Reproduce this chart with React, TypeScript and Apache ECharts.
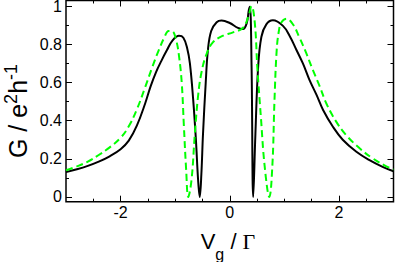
import React, { useEffect, useRef } from "react";
import * as echarts from "echarts";

// Gate voltage (Vg / Gamma) and conductance readings
const blackV = [-3.0, -2.8, -2.6, -2.4, -2.2, -2.0, -1.85, -1.7, -1.55, -1.45, -1.35, -1.25, -1.15, -1.05, -0.93, -0.85, -0.78, -0.73, -0.67, -0.62, -0.58, -0.55, -0.52, -0.49, -0.44, -0.40, -0.34, -0.24, -0.15, 0.0, 0.15, 0.24, 0.31, 0.35, 0.37, 0.40, 0.43, 0.47, 0.52, 0.58, 0.67, 0.79, 0.975, 1.1, 1.22, 1.34, 1.46, 1.59, 1.71, 1.89, 2.07, 2.32, 2.56, 2.8, 3.0];
const blackG = [0.13, 0.145, 0.163, 0.185, 0.213, 0.25, 0.295, 0.375, 0.49, 0.58, 0.655, 0.715, 0.77, 0.82, 0.845, 0.835, 0.78, 0.70, 0.51, 0.30, 0.09, 0.0, 0.12, 0.33, 0.60, 0.77, 0.87, 0.916, 0.925, 0.912, 0.886, 0.88, 0.91, 0.98, 0.997, 0.68, 0.0, 0.33, 0.68, 0.84, 0.905, 0.926, 0.897, 0.843, 0.772, 0.70, 0.614, 0.535, 0.456, 0.368, 0.30, 0.237, 0.193, 0.158, 0.135];

const greenV = [-3.0, -2.8, -2.6, -2.4, -2.2, -2.0, -1.85, -1.7, -1.55, -1.42, -1.3, -1.2, -1.12, -1.05, -0.98, -0.93, -0.88, -0.84, -0.8, -0.76, -0.70, -0.64, -0.58, -0.52, -0.43, -0.31, -0.12, 0.06, 0.24, 0.335, 0.40, 0.46, 0.505, 0.57, 0.64, 0.725, 0.78, 0.82, 0.86, 0.9, 0.945, 1.04, 1.16, 1.28, 1.40, 1.52, 1.65, 1.77, 1.95, 2.13, 2.38, 2.62, 2.86, 3.0];
const greenG = [0.14, 0.16, 0.185, 0.22, 0.26, 0.31, 0.37, 0.46, 0.575, 0.68, 0.77, 0.835, 0.87, 0.868, 0.82, 0.74, 0.60, 0.37, 0.15, 0.0, 0.09, 0.33, 0.53, 0.65, 0.745, 0.81, 0.846, 0.863, 0.886, 0.94, 1.0, 0.91, 0.68, 0.42, 0.16, 0.0, 0.16, 0.51, 0.77, 0.87, 0.915, 0.934, 0.904, 0.834, 0.755, 0.667, 0.579, 0.49, 0.395, 0.325, 0.255, 0.202, 0.162, 0.144];

const xMajor = [-2, 0, 2];
const xMinor = [-2.5, -1.5, -1, -0.5, 0.5, 1, 1.5, 2.5];
const yMajor = [0, 0.2, 0.4, 0.6, 0.8, 1];
const yMinor = [0.1, 0.3, 0.5, 0.7, 0.9];

const FONT = "Liberation Sans, Arial, Helvetica, sans-serif";

export default function App() {
  const ref = useRef<HTMLDivElement>(null);
  useEffect(() => {
    document.body.style.margin = "0";
    const chart = echarts.init(ref.current!, null, { renderer: "svg" });
    const rect = { left: 66, right: 1.5, top: 0.5, bottom: 60.3, outerBoundsMode: "none" as any };
    const noLine = { show: false, onZero: false };
    const xBase = { type: "value" as const, min: -3, max: 3, axisLine: noLine, splitLine: { show: false } };
    const yBase = { type: "value" as const, min: -0.025, max: 1.03, axisLine: noLine, splitLine: { show: false } };
    const tick = (vals: number[], len: number) => ({ show: true, inside: true, length: len, customValues: vals, lineStyle: { color: "#000", width: 1 } });
    const label = (vals: number[], margin: number) => ({ show: true, customValues: vals, fontSize: 16, lineHeight: 13, color: "#000", fontFamily: FONT, margin });
    const off = { show: false };
    chart.setOption({
      animation: false,
      backgroundColor: "#fff",
      grid: [
        { ...rect, show: true, borderColor: "#000", borderWidth: 1.5, backgroundColor: "transparent" },
        { ...rect },
      ],
      xAxis: [
        { ...xBase, gridIndex: 0, position: "bottom", axisTick: tick(xMajor, 6), axisLabel: label(xMajor, 4) },
        { ...xBase, gridIndex: 0, position: "top", axisTick: tick(xMajor, 6), axisLabel: off },
        { ...xBase, gridIndex: 1, position: "bottom", axisTick: tick(xMinor, 3), axisLabel: off },
        { ...xBase, gridIndex: 1, position: "top", axisTick: tick(xMinor, 3), axisLabel: off },
      ],
      yAxis: [
        { ...yBase, gridIndex: 0, position: "left", axisTick: tick(yMajor, 6), axisLabel: label(yMajor, 4) },
        { ...yBase, gridIndex: 0, position: "right", axisTick: tick(yMajor, 6), axisLabel: off },
        { ...yBase, gridIndex: 1, position: "left", axisTick: tick(yMinor, 3), axisLabel: off },
        { ...yBase, gridIndex: 1, position: "right", axisTick: tick(yMinor, 3), axisLabel: off },
      ],
      series: [
        {
          type: "line",
          xAxisIndex: 0,
          yAxisIndex: 0,
          data: blackV.map((v, i) => [v, blackG[i]]),
          showSymbol: false,
          smooth: 0.4,
          lineStyle: { color: "#000", width: 2 },
          z: 2,
        },
        {
          type: "line",
          xAxisIndex: 0,
          yAxisIndex: 0,
          data: greenV.map((v, i) => [v, greenG[i]]),
          showSymbol: false,
          smooth: 0.4,
          lineStyle: { color: "#00ff00", width: 2, type: [7, 4] },
          z: 3,
        },
      ],
      graphic: [
        {
          type: "text",
          x: 228,
          y: 241,
          style: {
            text: "{m|V}{s|g}{m| / }{g|Γ}",
            align: "center",
            verticalAlign: "middle",
            rich: {
              m: { fontSize: 22, fontFamily: FONT, fill: "#000", lineHeight: 26 },
              s: { fontSize: 16, fontFamily: FONT, fill: "#000", verticalAlign: "bottom", padding: [0, 0, -8, 0] },
              g: { fontSize: 22, fontFamily: "Liberation Serif, DejaVu Serif, serif", fill: "#000", lineHeight: 26 },
            },
          },
        },
        {
          type: "text",
          x: 18,
          y: 111,
          rotation: Math.PI / 2,
          style: {
            text: "{m|G / e}{p|2}{m|h}{p|-1}",
            align: "center",
            verticalAlign: "middle",
            rich: {
              m: { fontSize: 25, fontFamily: FONT, fill: "#000", lineHeight: 32 },
              p: { fontSize: 18, fontFamily: FONT, fill: "#000", verticalAlign: "top" },
            },
          },
        },
      ],
    });
    return () => chart.dispose();
  }, []);
  return <div ref={ref} style={{ position: "fixed", left: 0, top: 0, width: 395, height: 262 }} />;
}
